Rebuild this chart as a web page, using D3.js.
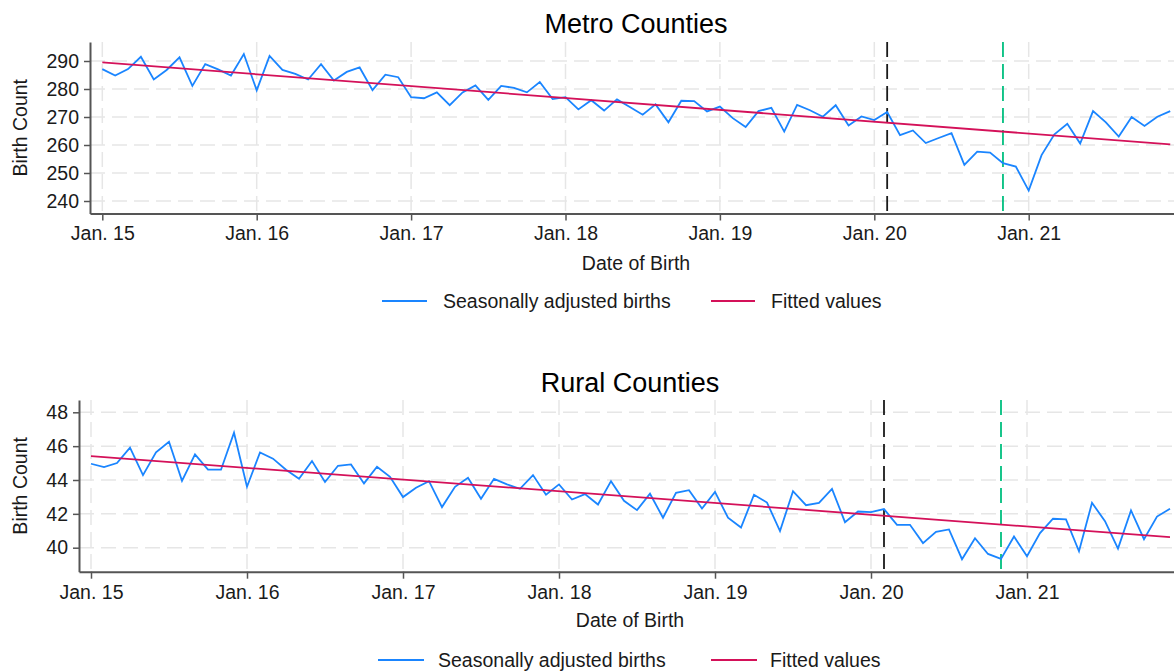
<!DOCTYPE html>
<html>
<head>
<meta charset="utf-8">
<script src="https://cdn.jsdelivr.net/npm/d3@7"></script>
<style>
  html, body { margin: 0; padding: 0; background: #fff; }
  svg { display: block; font-family: "Liberation Sans", Arial, sans-serif; }
</style>
</head>
<body>
<svg id="chart" width="1174" height="671"></svg>
<script>
// ---------- DATA ----------
const tickMonths = [0, 12, 24, 36, 48, 60, 72];
const tickLabels = ["Jan. 15", "Jan. 16", "Jan. 17", "Jan. 18", "Jan. 19", "Jan. 20", "Jan. 21"];

const metroTicks = [240, 250, 260, 270, 280, 290];
const ruralTicks = [40, 42, 44, 46, 48];

// Seasonally adjusted births, Jan 2015 .. Dec 2021 (monthly)
const metroBirths = [
  287.1, 284.8, 287.1, 291.5, 283.4, 286.8, 291.3, 281.1, 288.9, 287.0, 284.8, 292.5,
  279.5, 291.8, 286.8, 285.4, 283.4, 288.9, 283.0, 286.1, 287.7, 279.6, 285.1, 284.2,
  277.1, 276.7, 278.8, 274.2, 278.8, 281.3, 276.1, 281.1, 280.4, 278.8, 282.5, 276.4,
  277.1, 272.7, 276.0, 272.3, 276.3, 273.6, 270.8, 274.5, 268.1, 275.8, 275.7, 272.0,
  273.7, 269.6, 266.4, 272.1, 273.3, 264.8, 274.3, 272.4, 270.1, 274.2, 267.0, 270.2,
  268.9, 271.8, 263.5, 265.2, 260.7, 262.5, 264.2, 252.9, 257.6, 257.3, 253.5, 252.3,
  243.7, 256.4, 263.8, 267.6, 260.5, 272.1, 268.1, 263.0, 270.0, 266.8, 270.1, 272.1
];
const ruralBirths = [
  44.96, 44.76, 45.00, 45.91, 44.29, 45.63, 46.26, 43.95, 45.51, 44.61, 44.61, 46.79,
  43.60, 45.63, 45.26, 44.61, 44.07, 45.12, 43.88, 44.84, 44.92, 43.80, 44.78, 44.19,
  42.99, 43.54, 43.93, 42.40, 43.60, 44.13, 42.89, 44.07, 43.74, 43.48, 44.29, 43.13,
  43.74, 42.85, 43.17, 42.55, 43.93, 42.77, 42.22, 43.19, 41.77, 43.24, 43.40, 42.32,
  43.30, 41.77, 41.19, 43.13, 42.67, 40.98, 43.34, 42.51, 42.65, 43.48, 41.51, 42.14,
  42.10, 42.28, 41.35, 41.35, 40.27, 40.94, 41.08, 39.32, 40.56, 39.63, 39.34, 40.66,
  39.50, 40.86, 41.71, 41.67, 39.79, 42.65, 41.57, 39.95, 42.20, 40.50, 41.84, 42.30
];

// Fitted values (linear trend) at first and last month
const fittedMonths = [0, 83];
const metroFitted = [289.5, 260.2];
const ruralFitted = [45.41, 40.62];

// Reference lines (month index): Feb 2020 and Nov 2020
const refMonths = [61, 70];

const panelTitles = ["Metro Counties", "Rural Counties"];
const legendLabels = ["Seasonally adjusted births", "Fitted values"];

// ---------- STYLE ----------
const BLUE = "#1a85ff", RED = "#d41159", GREEN = "#00bf7f", BLACK = "#1a1a1a";
const AXIS = "#555555", GRID = "#e6e6e6", TEXT = "#1a1a1a";
const refColors = [BLACK, GREEN];

const svg = d3.select("#chart");

function drawPanel(cfg) {
  const months = d3.range(cfg.values.length);
  // x calibration: Jan.15 and Jan.21 pixel positions
  const xc = d3.scaleLinear().domain([0, 72]).range(cfg.xCal);
  const x = d3.scaleLinear().domain([xc.invert(cfg.left), xc.invert(cfg.right)]).range([cfg.left, cfg.right]);
  const yc = d3.scaleLinear().domain(cfg.yCalDom).range(cfg.yCalRange);
  const y = d3.scaleLinear().domain([yc.invert(cfg.bottom), yc.invert(cfg.top)]).range([cfg.bottom, cfg.top]);

  const g = svg.append("g");

  // grid
  g.append("g").selectAll("line.hg").data(cfg.yTicks).join("line")
    .attr("x1", cfg.left).attr("x2", cfg.right)
    .attr("y1", d => y(d)).attr("y2", d => y(d))
    .attr("stroke", GRID).attr("stroke-width", 1.5).attr("stroke-dasharray", "15,7");
  g.append("g").selectAll("line.vg").data(tickMonths).join("line")
    .attr("x1", d => x(d)).attr("x2", d => x(d))
    .attr("y1", cfg.top).attr("y2", cfg.bottom)
    .attr("stroke", GRID).attr("stroke-width", 1.5).attr("stroke-dasharray", "15,7");

  // reference lines
  g.append("g").selectAll("line.ref").data(refMonths).join("line")
    .attr("x1", d => x(d)).attr("x2", d => x(d))
    .attr("y1", cfg.top).attr("y2", cfg.bottom)
    .attr("stroke", (d, i) => refColors[i]).attr("stroke-width", 1.8)
    .attr("stroke-dasharray", "15,7");

  // series
  const line = d3.line().x(d => x(d[0])).y(d => y(d[1]));
  g.append("path").datum(months.map(i => [i, cfg.values[i]]))
    .attr("d", line).attr("fill", "none").attr("stroke", BLUE)
    .attr("stroke-width", 1.8).attr("stroke-linejoin", "miter");
  g.append("path").datum(fittedMonths.map((m, i) => [m, cfg.fitted[i]]))
    .attr("d", line).attr("fill", "none").attr("stroke", RED).attr("stroke-width", 1.8);

  // axes
  const ya = g.append("g").attr("transform", `translate(${cfg.left},0)`)
    .call(d3.axisLeft(y).tickValues(cfg.yTicks).tickSize(6).tickSizeOuter(0).tickPadding(5));
  const xa = g.append("g").attr("transform", `translate(0,${cfg.bottom})`)
    .call(d3.axisBottom(x).tickValues(tickMonths).tickFormat((d, i) => tickLabels[i])
      .tickSize(7).tickSizeOuter(0).tickPadding(6));
  [ya, xa].forEach(a => {
    a.select(".domain").attr("stroke", AXIS).attr("stroke-width", 2);
    a.selectAll(".tick line").attr("stroke", AXIS).attr("stroke-width", 1.5);
    a.selectAll(".tick text").attr("fill", TEXT).style("font-size", "19.5px")
      .style("font-family", '"Liberation Sans", Arial, sans-serif');
  });

  // titles
  g.append("text").attr("x", cfg.titleX).attr("y", cfg.titleY)
    .attr("text-anchor", "middle").attr("fill", "#000").style("font-size", "27px")
    .text(cfg.title);
  g.append("text").attr("x", cfg.titleX).attr("y", cfg.xLabelY)
    .attr("text-anchor", "middle").attr("fill", TEXT).style("font-size", "19.5px")
    .text("Date of Birth");
  g.append("text")
    .attr("transform", `translate(27,${(cfg.top + cfg.bottom) / 2}) rotate(-90)`)
    .attr("text-anchor", "middle").attr("fill", TEXT).style("font-size", "19.5px")
    .text("Birth Count");

  // legend
  const lg = g.append("g");
  const colors = [BLUE, RED];
  cfg.legend.forEach((p, i) => {
    lg.append("line").attr("x1", p[0]).attr("x2", p[1])
      .attr("y1", cfg.legendY).attr("y2", cfg.legendY)
      .attr("stroke", colors[i]).attr("stroke-width", 1.8);
    lg.append("text").attr("x", p[2]).attr("y", cfg.legendY + 7)
      .attr("fill", TEXT).style("font-size", "19.5px").text(legendLabels[i]);
  });
}

drawPanel({
  values: metroBirths, fitted: metroFitted, yTicks: metroTicks,
  xCal: [102.3, 1028.7], left: 90, right: 1174,
  yCalDom: [240, 290], yCalRange: [201, 61], top: 42, bottom: 213.5,
  title: panelTitles[0], titleX: 636, titleY: 33, xLabelY: 270,
  legendY: 301, legend: [[382, 427, 443], [711, 755, 771]]
});

drawPanel({
  values: ruralBirths, fitted: ruralFitted, yTicks: ruralTicks,
  xCal: [91, 1027], left: 79, right: 1174,
  yCalDom: [40, 48], yCalRange: [547.7, 412.3], top: 400, bottom: 571.7,
  title: panelTitles[1], titleX: 630, titleY: 392, xLabelY: 627,
  legendY: 660, legend: [[378, 424, 438], [711, 757, 770]]
});
</script>
</body>
</html>
